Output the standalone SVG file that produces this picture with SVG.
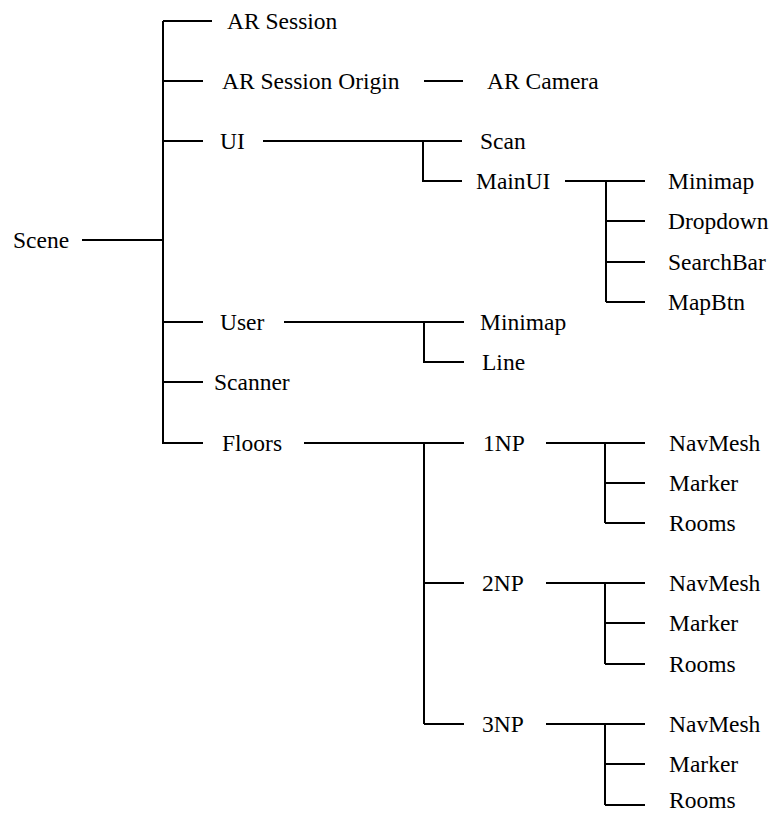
<svg xmlns="http://www.w3.org/2000/svg" width="773" height="813" viewBox="0 0 773 813">
<style>
.t text{font-size:23.5px;fill:#000}
.c{stroke:#000;stroke-width:2;fill:none}
</style>
<rect width="773" height="813" fill="#fff"/>
<g id="connectors" class="c">
<path d="M82 240H163M163 21V444"/>
<path d="M163 21H212M163 81H203M163 141H203M163 322H203M163 382H203M163 443H203"/>
<path d="M424 81H463"/>
<path d="M263 141H462M423 141V181H462"/>
<path d="M565 181H645M606 181V302M606 221H645M606 262H645M606 302H645"/>
<path d="M284 322H464M424 322V362H464"/>
<path d="M304 443H464M424 443V724M424 583H464M424 724H464"/>
<path d="M546 443H645M605 443V523M605 483H645M605 523H645"/>
<path d="M546 583H645M605 583V664M605 623H645M605 664H645"/>
<path d="M546 724H645M605 724V805M605 764H645M605 805H645"/>
</g>
<g class="t" font-family="'Liberation Serif', 'DejaVu Serif', serif" font-size="23.5">
<g id="scene"><text x="13" y="248">Scene</text></g>
<g id="ar-session"><text x="227" y="28.5">AR Session</text></g>
<g id="ar-session-origin"><text x="222" y="88.5">AR Session Origin</text></g>
<g id="ar-camera"><text x="487" y="88.5">AR Camera</text></g>
<g id="ui"><text x="220" y="148.5">UI</text></g>
<g id="scan"><text x="480" y="148.5">Scan</text></g>
<g id="mainui"><text x="476" y="188.5">MainUI</text></g>
<g id="mainui-minimap"><text x="668" y="188.5">Minimap</text></g>
<g id="dropdown"><text x="668" y="228.5">Dropdown</text></g>
<g id="searchbar"><text x="668" y="269.5">SearchBar</text></g>
<g id="mapbtn"><text x="668" y="309.5">MapBtn</text></g>
<g id="user"><text x="220" y="329.5">User</text></g>
<g id="user-minimap"><text x="480" y="329.5">Minimap</text></g>
<g id="line"><text x="482" y="369.5">Line</text></g>
<g id="scanner"><text x="214" y="389.5">Scanner</text></g>
<g id="floors"><text x="222" y="450.5">Floors</text></g>
<g id="np1"><text x="483" y="450.5">1NP</text></g>
<g id="np1-navmesh"><text x="669" y="450.5">NavMesh</text></g>
<g id="np1-marker"><text x="669" y="490.5">Marker</text></g>
<g id="np1-rooms"><text x="669" y="530.5">Rooms</text></g>
<g id="np2"><text x="482" y="590.5">2NP</text></g>
<g id="np2-navmesh"><text x="669" y="590.5">NavMesh</text></g>
<g id="np2-marker"><text x="669" y="630.5">Marker</text></g>
<g id="np2-rooms"><text x="669" y="671.5">Rooms</text></g>
<g id="np3"><text x="482" y="731.5">3NP</text></g>
<g id="np3-navmesh"><text x="669" y="731.5">NavMesh</text></g>
<g id="np3-marker"><text x="669" y="771.5">Marker</text></g>
<g id="np3-rooms"><text x="669" y="808">Rooms</text></g>
</g>
</svg>
